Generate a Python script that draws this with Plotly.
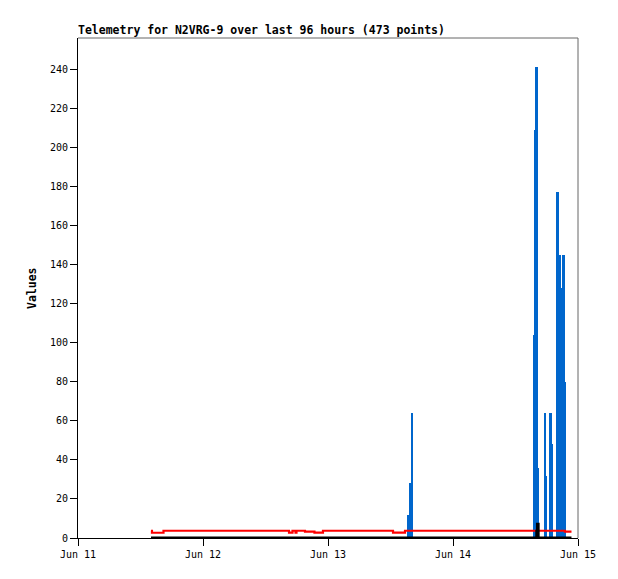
import plotly.graph_objects as go

# ---- data ----
title_text = "Telemetry for N2VRG-9 over last 96 hours (473 points)"
y_label = "Values"

x_range = ["2024-06-11 00:00", "2024-06-15 00:00"]
y_range = [0, 256]
y_ticks = [0, 20, 40, 60, 80, 100, 120, 140, 160, 180, 200, 220, 240]

# blue channel: samples (non-zero ones), roughly 10-minute spacing
blue_times = [
    "2024-06-13 15:25", "2024-06-13 15:40", "2024-06-13 15:48", "2024-06-13 16:08",
    "2024-06-14 15:27", "2024-06-14 15:39", "2024-06-14 15:50", "2024-06-14 16:02",
    "2024-06-14 16:10", "2024-06-14 16:21",
    "2024-06-14 17:34", "2024-06-14 17:43", "2024-06-14 17:54",
    "2024-06-14 18:42", "2024-06-14 18:51", "2024-06-14 19:03",
    "2024-06-14 19:52", "2024-06-14 20:03", "2024-06-14 20:11", "2024-06-14 20:21",
    "2024-06-14 20:30", "2024-06-14 20:41", "2024-06-14 20:50", "2024-06-14 20:59",
    "2024-06-14 21:10", "2024-06-14 21:18", "2024-06-14 21:28", "2024-06-14 21:35",
]
blue_values = [
    12, 20, 28, 64,
    104, 209, 241, 241,
    241, 36,
    64, 64, 32,
    64, 64, 48,
    80, 177, 177, 145,
    145, 128, 128, 128,
    145, 145, 80, 80,
]

# red channel (step changes)
red_times = [
    "2024-06-11 14:01", "2024-06-11 14:12", "2024-06-11 16:25",
    "2024-06-12 16:31", "2024-06-12 17:11", "2024-06-12 17:46", "2024-06-12 17:57",
    "2024-06-12 19:35", "2024-06-12 21:24", "2024-06-12 23:02",
    "2024-06-13 12:29", "2024-06-13 14:47",
    "2024-06-14 21:30", "2024-06-14 22:45",
]
red_values = [
    3.7, 2.7, 3.7,
    2.8, 3.7, 2.8, 3.7,
    3.3, 2.8, 3.7,
    2.8, 3.7,
    3.3, 3.3,
]

# black channel (step changes)
black_times = [
    "2024-06-11 14:01", "2024-06-14 16:05", "2024-06-14 16:13",
    "2024-06-14 16:21", "2024-06-14 22:45",
]
black_values = [0, 3.5, 7, 0, 0]

BAR_WIDTH_MS = 10 * 60 * 1000

fig = go.Figure()

fig.add_trace(go.Bar(
    x=blue_times, y=blue_values, width=BAR_WIDTH_MS,
    marker=dict(color="#0066CC", line=dict(width=0)),
    showlegend=False, hoverinfo="skip",
))
fig.add_trace(go.Scatter(
    x=red_times, y=red_values, mode="lines",
    line=dict(color="#FF0000", width=2.2, shape="hv"),
    showlegend=False, hoverinfo="skip",
))
fig.add_trace(go.Scatter(
    x=black_times, y=black_values, mode="lines",
    line=dict(color="#000000", width=3, shape="hv"),
    showlegend=False, hoverinfo="skip",
))

tick_font = dict(family="DejaVu Sans Mono", size=10, color="#000000")

# the page body has an 8px default margin, so the figure is offset by 8px
fig.update_layout(
    width=610, height=571,
    margin=dict(l=70, r=40, t=30, b=41),
    paper_bgcolor="white", plot_bgcolor="white",
    showlegend=False,
    bargap=0,
    xaxis=dict(
        type="date", range=x_range,
        dtick=86400000, tick0="2024-06-11", tickformat="%b %d",
        showgrid=False, zeroline=False,
        showline=True, linecolor="#000000", linewidth=1,
        ticks="outside", ticklen=7, tickcolor="#000000", tickwidth=1,
        tickfont=tick_font,
    ),
    yaxis=dict(
        range=y_range, tickvals=y_ticks,
        showgrid=False, zeroline=False,
        showline=True, linecolor="#000000", linewidth=1,
        ticks="outside", ticklen=7, tickcolor="#000000", tickwidth=1,
        tickfont=tick_font,
    ),
    shapes=[
        dict(type="line", xref="paper", yref="paper", x0=0, x1=1, y0=1, y1=1,
             line=dict(color="#666666", width=1)),
        dict(type="line", xref="paper", yref="paper", x0=1, x1=1, y0=0, y1=1,
             line=dict(color="#666666", width=1)),
    ],
    annotations=[
        dict(text="<b>" + title_text + "</b>", xref="paper", yref="paper",
             x=0, y=1, xanchor="left", yanchor="bottom", showarrow=False,
             xshift=-2, yshift=-1,
             font=dict(family="DejaVu Sans Mono", size=11.5, color="#000000")),
        dict(text="<b>" + y_label + "</b>", xref="paper", yref="paper",
             x=0, y=0.5, xanchor="center", yanchor="middle", showarrow=False,
             xshift=-46, textangle=-90,
             font=dict(family="DejaVu Sans Mono", size=11.5, color="#000000")),
    ],
)

fig.write_html("out.html", config={"displayModeBar": False})
